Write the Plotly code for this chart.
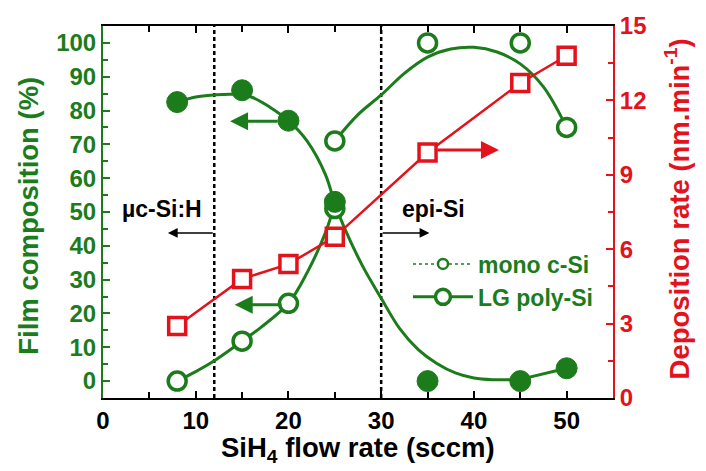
import plotly.graph_objects as go

GREEN = "#1c7c1c"
RED = "#e3121b"
FONT = "Liberation Sans"

# ---- data ----
flow = [8, 15, 20, 25, 35, 45, 50]
filled_frac = [82.5, 86, 77, 53, 0, 0, 3.8]          # filled circles (%)
dep_rate = [2.9, 4.8, 5.4, 6.5, 9.9, 12.7, 13.8]     # red squares (nm/min)

open_low_x = [8, 15, 20, 25]
open_low_y = [0, 11.8, 23, 51]
open_high_x = [25, 35, 45, 50]
open_high_y = [71, 100, 100, 75]

# guide (fit) curves
fit_filled_x = [8, 10, 12, 14, 16, 18, 20, 22, 24, 25, 26, 28, 30, 32, 34, 36, 38, 40, 42, 44, 45]
fit_filled_y = [82.5, 84, 84.6, 84.8, 84, 81, 77, 71, 61, 52.5, 45.5, 34, 24.5, 15.5, 9.3, 5.2, 2.4, 0.9, 0.4, 0.4, 0.5]
tail_x = [45, 50]
tail_y = [0.5, 3.8]
fit_low_x = [8, 10, 12, 15, 17, 20, 22, 24, 25]
fit_low_y = [0, 2.8, 6, 11.8, 15.8, 23, 32, 44, 52.5]
fit_high_x = [25, 27.5, 30, 32.5, 35, 37.5, 40, 42.5, 45, 47.5, 50]
fit_high_y = [71, 78.8, 84.6, 91, 95.8, 98.2, 98.7, 97.3, 93.8, 87, 75]

boundaries = [12, 30]
legend_names = ["mono c-Si", "LG poly-Si"]

fig = go.Figure()

# fit curves
for xs, ys in [(fit_filled_x, fit_filled_y), (fit_low_x, fit_low_y), (fit_high_x, fit_high_y)]:
    fig.add_trace(go.Scatter(x=xs, y=ys, mode="lines", line=dict(color=GREEN, width=3, shape="spline"),
                             showlegend=False, hoverinfo="skip"))
fig.add_trace(go.Scatter(x=tail_x, y=tail_y, mode="lines", line=dict(color=GREEN, width=3),
                         showlegend=False, hoverinfo="skip"))

# deposition rate
fig.add_trace(go.Scatter(x=flow, y=dep_rate, yaxis="y2", mode="lines+markers",
                         line=dict(color=RED, width=2.5),
                         marker=dict(symbol="square", size=17, color="white", line=dict(color=RED, width=3.5)),
                         showlegend=False))

# open circles
fig.add_trace(go.Scatter(x=open_low_x, y=open_low_y, mode="markers",
                         marker=dict(symbol="circle", size=18, color="white", line=dict(color=GREEN, width=3.5)),
                         showlegend=False))
fig.add_trace(go.Scatter(x=open_high_x, y=open_high_y, mode="markers",
                         marker=dict(symbol="circle", size=18, color="white", line=dict(color=GREEN, width=3.5)),
                         showlegend=False))
# filled circles
fig.add_trace(go.Scatter(x=flow, y=filled_frac, mode="markers",
                         marker=dict(symbol="circle", size=21, color=GREEN, line=dict(color=GREEN, width=1)),
                         showlegend=False))

# legend entries
fig.add_trace(go.Scatter(x=[None], y=[None], mode="lines+markers", name=legend_names[0],
                         line=dict(color=GREEN, width=1.5, dash="dot"),
                         marker=dict(symbol="circle", size=10, color="white", line=dict(color=GREEN, width=2.5))))
fig.add_trace(go.Scatter(x=[None], y=[None], mode="lines+markers", name=legend_names[1],
                         line=dict(color=GREEN, width=3),
                         marker=dict(symbol="circle", size=15, color="white", line=dict(color=GREEN, width=3.5))))

tickfont = dict(family=FONT, size=24, weight="bold")

fig.update_layout(
    width=706, height=471,
    margin=dict(l=103, r=93, t=21, b=73),
    plot_bgcolor="white", paper_bgcolor="white",
    showlegend=True,
    legend=dict(x=0.598, y=0.418, xanchor="left", yanchor="top", bgcolor="rgba(0,0,0,0)",
                font=dict(family=FONT, size=23, color=GREEN, weight="bold"),
                itemwidth=60, tracegroupgap=0),
    xaxis=dict(range=[0, 55], tick0=0, dtick=10, ticks="inside", ticklen=7, tickwidth=2,
               minor=dict(dtick=5, ticks="inside", ticklen=6, tickwidth=2, tickcolor="black"),
               showline=True, linecolor="black", linewidth=2, mirror="ticks",
               showgrid=False, zeroline=False, tickcolor="black",
               tickfont=dict(color="black", **tickfont)),
    yaxis=dict(range=[-5, 105], tick0=0, dtick=10, ticks="inside", ticklen=7, tickwidth=2,
               minor=dict(dtick=5, ticks="inside", ticklen=5, tickwidth=2, tickcolor=GREEN),
               showline=True, linecolor=GREEN, linewidth=2, tickcolor=GREEN,
               showgrid=False, zeroline=False, tickfont=dict(color=GREEN, **tickfont)),
    yaxis2=dict(range=[0, 15], tick0=0, dtick=3, ticks="inside", ticklen=7, tickwidth=2,
                minor=dict(dtick=1.5, ticks="inside", ticklen=5, tickwidth=2, tickcolor=RED),
                overlaying="y", side="right", anchor="x",
                showline=True, linecolor=RED, linewidth=2, tickcolor=RED,
                showgrid=False, zeroline=False, tickfont=dict(color=RED, **tickfont)),
)

for b in boundaries:
    fig.add_shape(type="line", x0=b, x1=b, xref="x", yref="paper", y0=0, y1=1,
                  line=dict(color="black", width=2.5, dash="4px,3px"), layer="below")

# axis titles
fig.add_annotation(text="Film composition (%)", xref="paper", yref="paper", x=-0.145, y=0.49,
                   textangle=-90, showarrow=False, xanchor="center", yanchor="middle",
                   font=dict(family=FONT, size=27.5, color=GREEN, weight="bold"))
fig.add_annotation(text="Deposition rate (nm.min<sup>-1</sup>)", xref="paper", yref="paper", x=1.127, y=0.509,
                   textangle=-90, showarrow=False, xanchor="center", yanchor="middle",
                   font=dict(family=FONT, size=27.5, color=RED, weight="bold"))
fig.add_annotation(text="SiH<sub>4</sub> flow rate (sccm)", xref="paper", yref="paper", x=0.5, y=-0.138,
                   showarrow=False, xanchor="center", yanchor="middle",
                   font=dict(family=FONT, size=27.5, color="black", weight="bold"))

# region labels
fig.add_annotation(text="µc-Si:H", x=6.4, y=51, showarrow=False,
                   font=dict(family=FONT, size=23, color="black", weight="bold"))
fig.add_annotation(text="epi-Si", x=35.6, y=51, showarrow=False,
                   font=dict(family=FONT, size=23, color="black", weight="bold"))

# arrows
def arrow(x, y, ax, ay, color, width, size, yref="y"):
    fig.add_annotation(x=x, y=y, ax=ax, ay=ay, xref="x", yref=yref, axref="x", ayref=yref,
                       text="", showarrow=True, arrowhead=2, arrowsize=size, arrowwidth=width,
                       arrowcolor=color, standoff=0, startstandoff=0)

arrow(7.0, 43.8, 12.0, 43.8, "black", 1.5, 1.3)
arrow(35.2, 43.8, 30.0, 43.8, "black", 1.5, 1.3)
arrow(13.7, 76.8, 19.0, 76.8, GREEN, 3, 1.2)
arrow(14.2, 22.6, 19.4, 22.6, GREEN, 3, 1.2)
arrow(42.7, 10.0, 35.9, 10.0, RED, 3, 1.2, yref="y2")

fig.write_html("out.html", config={"displayModeBar": False},
               post_script="document.body.style.margin='0px';document.body.style.overflow='hidden';")
